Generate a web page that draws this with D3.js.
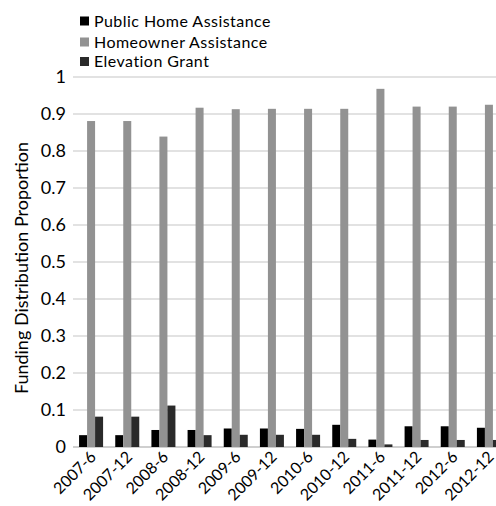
<!DOCTYPE html>
<html>
<head>
<meta charset="utf-8">
<script src="https://cdn.jsdelivr.net/npm/d3@7"></script>
<style>
  html, body { margin: 0; padding: 0; background: #fff; overflow: hidden; }
  svg { display: block; font-family: Lato, "Open Sans", sans-serif; }
</style>
</head>
<body>
<svg id="chart" width="496" height="506"></svg>
<script>
// Funding distribution by reporting period
const periods = ["2007-6", "2007-12", "2008-6", "2008-12", "2009-6", "2009-12",
                 "2010-6", "2010-12", "2011-6", "2011-12", "2012-6", "2012-12"];
const publicHome = [0.032, 0.032, 0.046, 0.046, 0.050, 0.050, 0.049, 0.060, 0.020, 0.056, 0.056, 0.052];
const homeowner  = [0.881, 0.881, 0.839, 0.917, 0.913, 0.914, 0.914, 0.914, 0.968, 0.920, 0.920, 0.925];
const elevation  = [0.082, 0.082, 0.112, 0.032, 0.033, 0.033, 0.033, 0.022, 0.007, 0.019, 0.019, 0.019];
const seriesNames = ["Public Home Assistance", "Homeowner Assistance", "Elevation Grant"];
const seriesColors = ["#000000", "#929292", "#2a2a2a"];
const yTicks = [0, 0.1, 0.2, 0.3, 0.4, 0.5, 0.6, 0.7, 0.8, 0.9, 1];

const series = [publicHome, homeowner, elevation];
const svg = d3.select("#chart");

const plot = { left: 73, right: 507, top: 77, bottom: 447 };

const x = d3.scaleBand().domain(periods).range([plot.left, plot.right]).paddingInner(0).paddingOuter(0);
const y = d3.scaleLinear().domain([0, 1]).range([plot.bottom, plot.top]);
const barW = 8;
const xSub = d3.scaleBand().domain(d3.range(series.length))
  .range([x.bandwidth() / 2 - 1.5 * barW, x.bandwidth() / 2 + 1.5 * barW]);

// Gridlines
svg.append("g")
  .selectAll("line")
  .data(yTicks)
  .join("line")
  .attr("x1", plot.left).attr("x2", plot.right)
  .attr("y1", d => y(d)).attr("y2", d => y(d))
  .attr("stroke", d => d === 0 ? "#bfbfbf" : "#d9d9d9")
  .attr("stroke-width", 1.5);

// Y axis labels
const yAxis = d3.axisLeft(y).tickValues(yTicks).tickSize(0).tickPadding(7)
  .tickFormat(d => d3.format("")(+d.toFixed(1)));
const gy = svg.append("g").attr("transform", `translate(${plot.left},0)`).call(yAxis);
gy.select(".domain").remove();
gy.selectAll("text").attr("font-size", 18).attr("fill", "#000").attr("font-family", "Lato, 'Open Sans', sans-serif");

// Bars
const groups = svg.append("g").selectAll("g")
  .data(periods)
  .join("g")
  .attr("transform", d => `translate(${x(d)},0)`);

groups.selectAll("rect")
  .data((d, i) => series.map((s, k) => ({ k, v: s[i] })))
  .join("rect")
  .attr("x", d => xSub(d.k))
  .attr("width", barW)
  .attr("y", d => y(d.v))
  .attr("height", d => y(0) - y(d.v))
  .attr("fill", d => seriesColors[d.k]);

// X axis labels, rotated
const xAxis = d3.axisBottom(x).tickSize(0).tickPadding(0);
const gx = svg.append("g").attr("transform", `translate(0,${plot.bottom})`).call(xAxis);
gx.select(".domain").remove();
gx.selectAll("text")
  .attr("font-size", 16)
  .attr("fill", "#000")
  .attr("font-family", "Lato, 'Open Sans', sans-serif")
  .attr("text-anchor", "end")
  .attr("dy", null)
  .attr("transform", "translate(6,11) rotate(-45)");

// Y axis title
svg.append("text")
  .attr("transform", `translate(28,268) rotate(-90)`)
  .attr("text-anchor", "middle")
  .attr("font-size", 18)
  .attr("fill", "#000")
  .text("Funding Distribution Proportion");

// Legend
const legendRows = [21, 42, 61.5];
const legend = svg.append("g").selectAll("g")
  .data(seriesNames)
  .join("g")
  .attr("transform", (d, i) => `translate(80,${legendRows[i]})`);
legend.append("rect")
  .attr("x", 0).attr("y", -4.5).attr("width", 9).attr("height", 9)
  .attr("fill", (d, i) => seriesColors[i]);
legend.append("text")
  .attr("x", 14).attr("y", 0).attr("dy", "0.35em")
  .attr("font-size", 16)
  .attr("letter-spacing", 0.45)
  .attr("fill", "#000")
  .text(d => d);
</script>
</body>
</html>
